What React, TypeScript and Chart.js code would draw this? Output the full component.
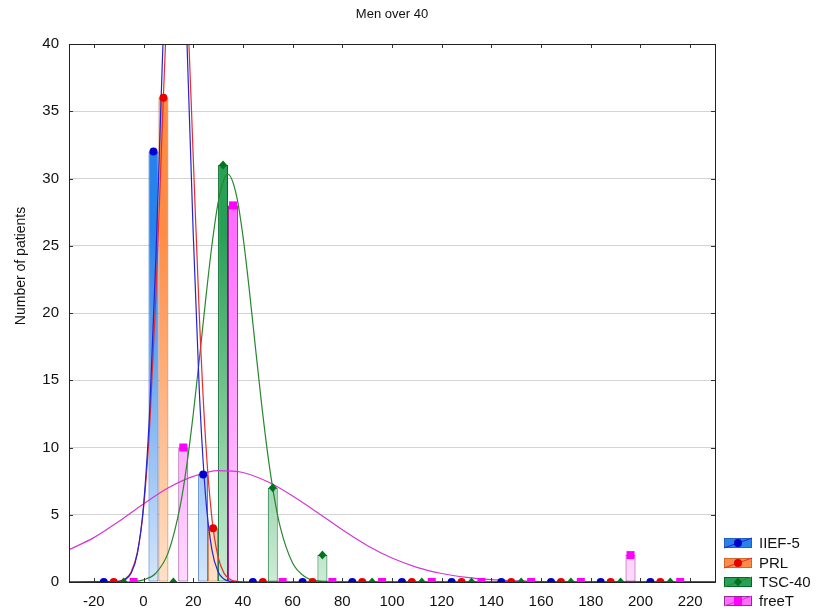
import React, { useEffect, useRef } from "react";
import { Chart, registerables } from "chart.js";

Chart.register(...registerables);

// ---------- data ----------
const seriesNames = ["IIEF-5", "PRL", "TSC-40", "freeT"];
const binCenters = [-10, 10, 30, 50, 70, 90, 110, 130, 150, 170, 190, 210];
const iief5Counts = [0, 32, 8, 0, 0, 0, 0, 0, 0, 0, 0, 0];
const prlCounts = [0, 36, 4, 0, 0, 0, 0, 0, 0, 0, 0, 0];
const tsc40Counts = [0, 0, 31, 7, 2, 0, 0, 0, 0, 0, 0, 0];
const freeTCounts = [0, 10, 28, 0, 0, 0, 0, 0, 0, 0, 2, 0];

const xTickValues = [-20, 0, 20, 40, 60, 80, 100, 120, 140, 160, 180, 200, 220];
const yTickValues = [0, 5, 10, 15, 20, 25, 30, 35, 40];
const chartTitle = "Men over 40";
const yAxisTitle = "Number of patients";

// fitted normal curves (peaks above 40 are clipped)
const iief5CurveX = [-30, -10, -7.5, -5, -2.5, 0, 2.5, 5, 7.5, 10, 12.5, 15, 17.5, 20, 22.5, 25, 27.5, 30, 32.5, 35, 37.5, 40, 230];
const iief5CurveY = [0, 0.04, 0.17, 0.65, 2.11, 5.69, 12.85, 24.25, 38.3, 50.6, 55.9, 51.7, 40.0, 25.9, 14.0, 6.33, 2.4, 0.76, 0.2, 0.05, 0.01, 0, 0];
const prlCurveX = [-30, -12.5, -10, -7.5, -5, -2.5, 0, 2.5, 5, 7.5, 10, 12.5, 15, 17.5, 20, 22.5, 25, 27.5, 30, 32.5, 35, 37.5, 40, 230];
const prlCurveY = [0, 0.01, 0.05, 0.22, 0.75, 2.18, 5.46, 11.68, 21.42, 33.6, 45.3, 52.2, 51.5, 43.6, 31.6, 19.6, 10.46, 4.77, 1.86, 0.62, 0.18, 0.04, 0, 0];
const tsc40CurveX = [-30, -10, -5, 0, 5, 10, 15, 17.5, 20, 22.5, 25, 27.5, 30, 32.5, 34, 37.5, 40, 42.5, 45, 47.5, 50, 52.5, 55, 60, 65, 70, 75, 80, 230];
const tsc40CurveY = [0, 0, 0.02, 0.16, 0.67, 2.22, 5.89, 8.82, 12.46, 16.63, 20.99, 25.0, 28.18, 29.99, 30.3, 28.66, 25.73, 21.83, 17.5, 13.26, 9.49, 6.42, 4.1, 1.41, 0.39, 0.08, 0.01, 0, 0];
const freeTCurveX = [-30, -20, -10, 0, 10, 20, 30, 40, 50, 60, 70, 80, 90, 100, 110, 120, 130, 140, 150, 160, 170, 180, 230];
const freeTCurveY = [2.4, 3.3, 4.5, 5.8, 7.0, 7.85, 8.28, 8.14, 7.45, 6.4, 5.17, 3.88, 2.72, 1.78, 1.09, 0.63, 0.34, 0.17, 0.08, 0.03, 0.01, 0, 0];

const countsBySeries = [iief5Counts, prlCounts, tsc40Counts, freeTCounts];
const curveXBySeries = [iief5CurveX, prlCurveX, tsc40CurveX, freeTCurveX];
const curveYBySeries = [iief5CurveY, prlCurveY, tsc40CurveY, freeTCurveY];

// ---------- styles ----------
const FONT = "'Liberation Sans', Arial, sans-serif";
const barTop = ["rgb(40,130,235)", "rgb(255,140,70)", "rgb(40,160,85)", "rgb(255,110,255)"];
const barBottom = ["rgb(212,230,250)", "rgb(255,226,200)", "rgb(205,236,212)", "rgb(255,218,255)"];
const barEdge = ["rgb(35,95,190)", "rgb(205,105,45)", "rgb(0,105,40)", "rgb(150,40,150)"];
const markerColor = ["rgb(0,0,205)", "rgb(230,0,0)", "rgb(0,115,30)", "rgb(255,0,255)"];
const curveColor = ["rgb(35,35,215)", "rgb(230,45,45)", "rgb(40,135,45)", "rgb(210,55,210)"];
const markerShape = ["circle", "circle", "diamond", "square"];

function drawMarker(ctx: CanvasRenderingContext2D, shape: string, x: number, y: number, color: string) {
  ctx.fillStyle = color;
  ctx.beginPath();
  if (shape === "circle") {
    ctx.arc(x, y, 4, 0, Math.PI * 2);
  } else if (shape === "diamond") {
    ctx.moveTo(x, y - 4.5);
    ctx.lineTo(x + 4, y);
    ctx.lineTo(x, y + 4.5);
    ctx.lineTo(x - 4, y);
    ctx.closePath();
  } else {
    ctx.rect(x - 4, y - 4, 8, 8);
  }
  ctx.fill();
}

const markerPlugin = {
  id: "barMarkers",
  afterDatasetsDraw(chart: any) {
    const { ctx, chartArea } = chart;
    ctx.save();
    ctx.beginPath();
    ctx.rect(chartArea.left, chartArea.top, chartArea.right - chartArea.left, chartArea.bottom - chartArea.top);
    ctx.clip();
    for (let s = 0; s < seriesNames.length; s++) {
      const meta = chart.getDatasetMeta(s);
      meta.data.forEach((el: any) => drawMarker(ctx, markerShape[s], el.x, el.y, markerColor[s]));
    }
    ctx.restore();
  },
};

const framePlugin = {
  id: "frame",
  afterDraw(chart: any) {
    const { ctx, chartArea, scales } = chart;
    const { left, right, top, bottom } = chartArea;
    ctx.save();
    ctx.strokeStyle = "#333";
    ctx.lineWidth = 1;
    ctx.beginPath();
    xTickValues.forEach((v) => {
      const px = Math.round(scales.x.getPixelForValue(v)) + 0.5;
      ctx.moveTo(px, bottom);
      ctx.lineTo(px, bottom - 4);
      ctx.moveTo(px, top);
      ctx.lineTo(px, top + 4);
    });
    yTickValues.forEach((v) => {
      const py = Math.round(scales.y.getPixelForValue(v)) + 0.5;
      ctx.moveTo(left, py);
      ctx.lineTo(left + 4, py);
      ctx.moveTo(right, py);
      ctx.lineTo(right - 4, py);
    });
    ctx.stroke();
    ctx.strokeStyle = "#222";
    ctx.strokeRect(Math.round(left) + 0.5, Math.round(top) + 0.5, Math.round(right - left), Math.round(bottom - top));

    // y axis title
    ctx.save();
    ctx.translate(21, 266);
    ctx.rotate(-Math.PI / 2);
    ctx.font = `14px ${FONT}`;
    ctx.fillStyle = "#111";
    ctx.textAlign = "center";
    ctx.textBaseline = "middle";
    ctx.fillText(yAxisTitle, 0, 0);
    ctx.restore();

    // legend
    const lx = 724;
    const rowsY = [543, 563, 582, 601];
    ctx.font = `15px ${FONT}`;
    ctx.textBaseline = "middle";
    ctx.textAlign = "left";
    for (let s = 0; s < seriesNames.length; s++) {
      const cy = rowsY[s];
      ctx.fillStyle = barTop[s];
      ctx.fillRect(lx, cy - 5, 28, 10);
      ctx.strokeStyle = barEdge[s];
      ctx.strokeRect(lx + 0.5, cy - 5 + 0.5, 27, 9);
      ctx.strokeStyle = curveColor[s];
      ctx.beginPath();
      ctx.moveTo(lx, cy + 5);
      ctx.lineTo(lx + 28, cy - 5);
      ctx.stroke();
      drawMarker(ctx, markerShape[s], lx + 14, cy, markerColor[s]);
      ctx.fillStyle = "#111";
      ctx.fillText(seriesNames[s], lx + 35, cy + 1);
    }
    ctx.restore();
  },
};

export default function App() {
  const canvasRef = useRef<HTMLCanvasElement | null>(null);

  useEffect(() => {
    if (!canvasRef.current) return;
    const barSets = seriesNames.map((name, s) => ({
      type: "bar" as const,
      label: name,
      data: binCenters.map((x, i) => ({ x, y: countsBySeries[s][i] })),
      backgroundColor: (c: any) => {
        const area = c.chart.chartArea;
        if (!area) return barBottom[s];
        const g = c.chart.ctx.createLinearGradient(0, area.top, 0, area.bottom);
        g.addColorStop(0, barTop[s]);
        g.addColorStop(0.35, barTop[s]);
        g.addColorStop(1, barBottom[s]);
        return g;
      },
      borderColor: barEdge[s],
      borderWidth: 1,
      borderSkipped: false,
      categoryPercentage: 0.8,
      barPercentage: 1.0,
      order: 2,
      clip: 0,
    }));
    const lineSets = seriesNames.map((name, s) => ({
      type: "line" as const,
      label: name + " fit",
      data: curveXBySeries[s].map((x, i) => ({ x, y: curveYBySeries[s][i] })),
      borderColor: curveColor[s],
      borderWidth: 1.2,
      pointRadius: 0,
      fill: false,
      cubicInterpolationMode: "monotone" as const,
      order: 1,
      clip: 0,
    }));

    const chart = new Chart(canvasRef.current, {
      type: "bar",
      data: { datasets: [...barSets, ...lineSets] as any },
      plugins: [markerPlugin, framePlugin],
      options: {
        animation: false,
        responsive: false,
        maintainAspectRatio: false,
        layout: { padding: { left: 0, right: 101, top: 0, bottom: 0 } },
        plugins: {
          legend: { display: false },
          tooltip: { enabled: false },
          title: {
            display: true,
            text: chartTitle,
            fullSize: false,
            color: "#111",
            font: { family: FONT, size: 13, weight: "normal" },
            padding: { top: 7, bottom: 21.4 },
          },
        },
        scales: {
          x: {
            type: "linear",
            min: -30,
            max: 230,
            offset: false,
            grid: { display: false, drawTicks: false },
            border: { display: false },
            afterBuildTicks: (scale: any) => {
              scale.ticks = xTickValues.map((v) => ({ value: v }));
            },
            afterFit: (scale: any) => {
              scale.height = 28;
            },
            ticks: {
              autoSkip: false,
              maxRotation: 0,
              padding: 11,
              color: "#111",
              font: { family: FONT, size: 15 },
            },
          },
          y: {
            type: "linear",
            min: 0,
            max: 40,
            grid: { color: "rgb(212,212,212)", lineWidth: 1, drawTicks: false },
            border: { display: false },
            afterBuildTicks: (scale: any) => {
              scale.ticks = yTickValues.map((v) => ({ value: v }));
            },
            afterFit: (scale: any) => {
              scale.width = 69;
            },
            ticks: {
              padding: 10,
              color: "#111",
              font: { family: FONT, size: 15 },
            },
          },
        },
      } as any,
    });
    return () => chart.destroy();
  }, []);

  return (
    <div style={{ position: "fixed", left: 0, top: 0, width: 816, height: 610, background: "#fff" }}>
      <canvas ref={canvasRef} width={816} height={610} style={{ display: "block", width: 816, height: 610 }} />
    </div>
  );
}
